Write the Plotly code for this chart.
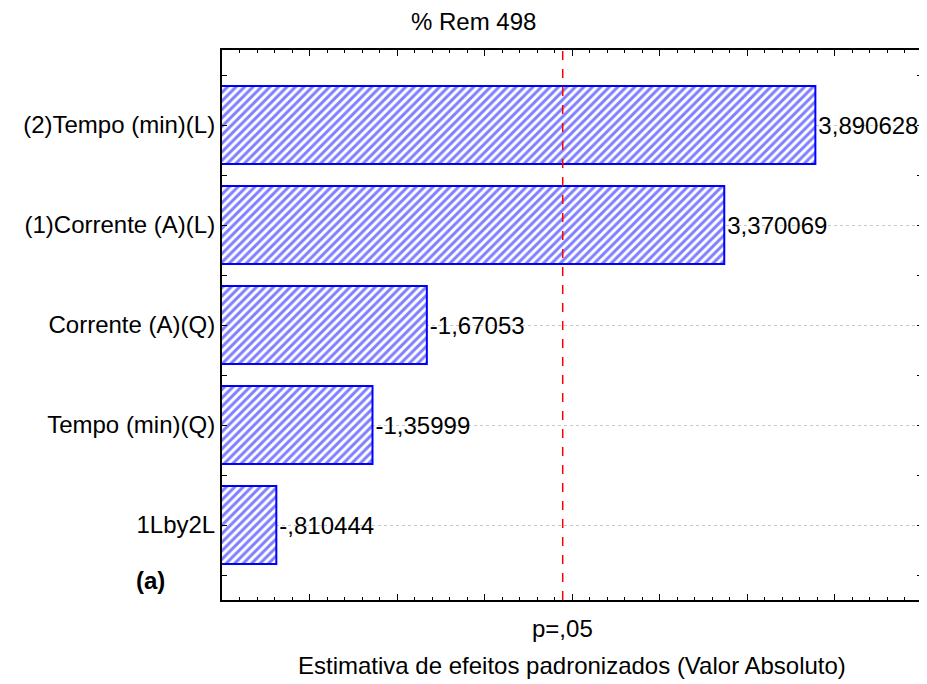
import plotly.graph_objects as go

categories = ["(2)Tempo (min)(L)", "(1)Corrente (A)(L)", "Corrente (A)(Q)", "Tempo (min)(Q)", "1Lby2L"]
effects = [3.890628, 3.370069, -1.67053, -1.35999, -0.810444]
effect_labels = ["3,890628", "3,370069", "-1,67053", "-1,35999", "-,810444"]
p_crit = 2.446912
p_label = "p=,05"

positions = list(range(len(categories)))
abs_effects = [abs(v) for v in effects]

FONT = "Liberation Sans, Arial, sans-serif"
FS = 24

# page has an 8px body margin; the figure is sized/offset to compensate
fig = go.Figure()
fig.add_trace(go.Bar(
    x=abs_effects, y=positions, orientation="h",
    width=0.78,
    marker=dict(
        color="white",
        line=dict(color="#0000ff", width=2),
        pattern=dict(shape="/", fgcolor="#0000ff", bgcolor="white", size=6, solidity=0.5),
    ),
    text=effect_labels, textposition="outside", cliponaxis=False,
    textfont=dict(family=FONT, size=FS, color="black"),
    hoverinfo="skip",
))

fig.add_shape(type="line", x0=p_crit, x1=p_crit, y0=0, y1=1, xref="x", yref="paper",
              line=dict(color="#ff0000", width=1.5, dash="dash"))

fig.add_annotation(x=p_crit, y=-(628 - 600) / 550, xref="x", yref="paper",
                   text=p_label, showarrow=False, yanchor="middle",
                   font=dict(family=FONT, size=FS, color="black"))
fig.add_annotation(x=(473 - 222) / 700, y=1.0 + 28 / 550, xref="paper", yref="paper", text="% Rem 498",
                   showarrow=False, yanchor="middle", xanchor="center",
                   font=dict(family=FONT, size=FS, color="black"))
fig.add_annotation(x=0.5, y=-(665 - 600) / 550, xref="paper", yref="paper",
                   text="Estimativa de efeitos padronizados (Valor Absoluto)", showarrow=False,
                   yanchor="middle", font=dict(family=FONT, size=FS, color="black"))
fig.add_annotation(x=(150 - 222) / 700, y=(600 - 580) / 550, xref="paper", yref="paper",
                   text="<b>(a)</b>", showarrow=False, yanchor="middle", xanchor="center",
                   font=dict(family=FONT, size=FS, color="black"))

fig.update_layout(
    width=919, height=676,
    margin=dict(l=214, r=5, t=42, b=84, autoexpand=False),
    paper_bgcolor="white", plot_bgcolor="white",
    showlegend=False,
    font=dict(family=FONT, size=FS, color="black"),
)
fig.update_xaxes(
    range=[0.5, 4.5], showticklabels=False, showgrid=False, zeroline=False, automargin=False,
    showline=True, linecolor="black", linewidth=2, mirror="ticks",
    ticks="inside", tickvals=[0.5 + 0.5 * i for i in range(9)], ticklen=6, tickcolor="black",
    minor=dict(ticks="inside", dtick=0.1, tick0=0.5, ticklen=3, tickcolor="black", showgrid=False),
)
fig.update_yaxes(
    range=[4.75, -0.75], tickvals=positions, ticktext=categories, automargin=False,
    showgrid=True, gridcolor="#c8c8c8", griddash="dot", gridwidth=1, zeroline=False,
    showline=True, linecolor="black", linewidth=2, mirror="ticks",
    ticks="inside", ticklen=5, tickcolor="black",
    tickfont=dict(family=FONT, size=FS, color="black"),
    minor=dict(ticks="inside", tickvals=[p + 0.5 for p in [-1] + positions], ticklen=5,
               tickcolor="black", showgrid=False),
)

fig.write_html("out.html")
